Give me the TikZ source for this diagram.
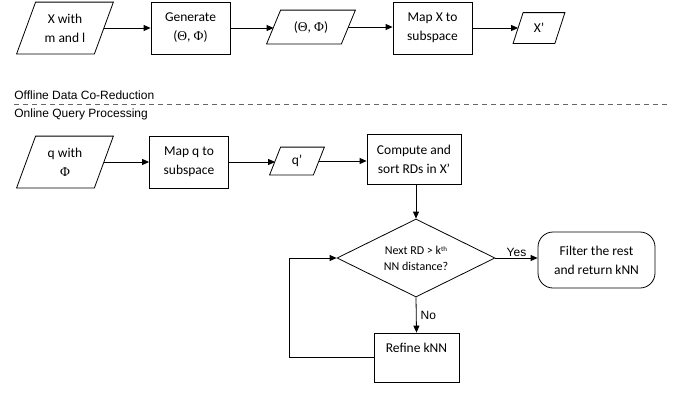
\documentclass[tikz,border=0pt]{standalone}
\usepackage{fontspec}
\setmainfont{Carlito}
\newfontfamily\arialf{Liberation Sans}
\newfontfamily\timesf{Liberation Serif}
\usetikzlibrary{arrows.meta,calc,shapes.geometric}
\newcommand\drawpara[2]{\draw ($(#1.north west)+(#2,0)$) -- ($(#1.north east)+(#2,0)$) -- ($(#1.south east)+(-#2,0)$) -- ($(#1.south west)+(-#2,0)$) -- cycle;}
\begin{document}
\begin{tikzpicture}[x=1pt,y=-1pt,line width=0.8pt,
  txt/.style={font=\fontsize{13.5}{19}\selectfont,align=center,inner sep=0pt},
  procbox/.style={txt,draw,minimum width=79pt,minimum height=52pt},
  parabox/.style={txt,minimum width=#1},
  arr/.style={-{Triangle[length=7pt,width=6pt]}},
  lab/.style={font=\arialf\fontsize{12}{14}\selectfont,inner sep=1pt}]
\useasboundingbox (0,0) rectangle (680,392);

% Row 1
\node[parabox=77pt,minimum height=51pt] (x) at (65,28) {X with\\m and l};
\drawpara{x}{9.5}
\node[procbox] (gen) at (190.5,28) {Generate\\({\timesf Θ}, {\timesf Φ})};
\node[parabox=74pt,minimum height=33pt] (tp) at (311,27) {({\timesf Θ}, {\timesf Φ})};
\drawpara{tp}{7}
\node[procbox] (mapx) at (432.5,28) {Map X to\\subspace};
\node[parabox=41pt,minimum height=30pt] (xp) at (539,28) {X’};
\drawpara{xp}{5}

\draw[arr] (x.east) -- (x.east -| gen.west);
\draw[arr] (gen.east) -- (gen.east -| tp.west);
\draw[arr] (tp.east) -- (tp.east -| mapx.west);
\draw[arr] (mapx.east) -- (mapx.east -| xp.west);

% Separator
\node[lab,anchor=base west] (off) at (13,99) {Offline Data Co-Reduction};
\draw[dashed,dash pattern=on 5pt off 4pt,black!60,line width=0.7pt] (14,104) coordinate (dl) -- (670,104) coordinate (dr);
\node[lab,anchor=base west] (on) at (13,117) {Online Query Processing};

% Row 2
\node[parabox=77pt,minimum height=51pt] (q) at (65,162) {q with\\{\timesf Φ}};
\drawpara{q}{9.5}
\node[procbox] (mapq) at (189,162) {Map q to\\subspace};
\node[parabox=43pt,minimum height=27pt] (qp) at (297,161) {q’};
\drawpara{qp}{5.5}
\node[procbox,minimum width=94pt,minimum height=50pt] (comp) at (414,159) {Compute and\\sort RDs in X’};

\draw[arr] (q.east) -- (q.east -| mapq.west);
\draw[arr] (mapq.east) -- (mapq.east -| qp.west);
\draw[arr] (qp.east) -- (qp.east -| comp.west);

\node[draw,diamond,inner sep=0pt,aspect=2.03,minimum width=158pt,minimum height=78pt,
  font=\fontsize{12}{16}\selectfont,align=center] (dia) at (416,258) {Next RD > k\raisebox{0.5ex}{\fontsize{7}{8}\selectfont th}\\NN distance?};
\draw[arr] (comp.south -| dia.north) -- (dia.north);

\node[txt,draw,rounded corners=15pt,minimum width=117pt,minimum height=56pt] (fil) at (596.5,260) {Filter the rest\\and return kNN};
\draw[arr] (dia.east) -- node[lab,above] {Yes} (dia.east -| fil.west);

\node[procbox,minimum width=85pt,minimum height=49pt] (ref) at (416.5,357.5) {Refine kNN\\\mbox{}};
\draw[arr] (dia.south) -- node[lab,right=3pt] {No} (ref.north);
\draw[arr] (ref.west) -- ++(-84,0) |- (dia.west);
\end{tikzpicture}
\end{document}
